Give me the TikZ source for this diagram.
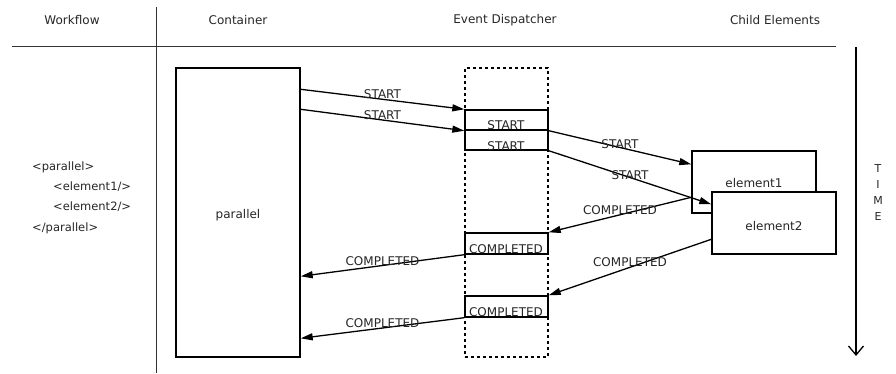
\documentclass[tikz,border=0pt]{standalone}
\usepackage{fontspec}
\setmainfont{DejaVu Sans}
\usetikzlibrary{arrows.meta,calc}
\begin{document}
\begin{tikzpicture}[x=1pt,y=-1pt,
  every node/.style={font=\fontsize{12}{14}\selectfont, inner sep=0pt, text=black!85},
  box/.style={draw, line width=1.4pt, fill=white},
  msg/.style={-{Triangle[length=12pt,width=7pt]}, line width=1.3pt},
  lbl/.style={midway},
  axis/.style={line width=1pt, black!80}]
\useasboundingbox (0,0) rectangle (896,374);

% column headers and grid
\node (hwf)  at (72,20)  {Workflow};
\node (hct)  at (238,20) {Container};
\node (hed)  at (505,20) {Event Dispatcher};
\node (hce)  at (775,20) {Child Elements};
\coordinate (vt) at (156,7);
\coordinate (vb) at (156,373);
\coordinate (hl) at (12,47);
\coordinate (hr) at (836,47);
\draw[axis] (vt) -- (vb);
\draw[axis] (hl) -- (hr);

% time axis
\coordinate (tt) at (856,47);
\coordinate (tb) at (856,356);
\draw[line width=1.3pt, -{Straight Barb[length=9pt,width=15pt,line width=1.3pt]}] (tt) -- (tb);
\node[align=center, font=\fontsize{11}{16}\selectfont] (time) at (878,192) {T\\I\\M\\E};

% workflow source
\node[anchor=west, align=left, font=\fontsize{11.5}{20.3}\selectfont] (src) at (32,197.5)
  {<parallel>\\\hspace{21pt}<element1/>\\\hspace{21pt}<element2/>\\</parallel>};

% container
\node[box, minimum width=124pt, minimum height=289pt] (cont) at (238,212.5) {};
\node (contl) at (238,215) {parallel};

% event dispatcher
\node[draw, dash pattern=on 3pt off 3pt, line width=1.4pt, minimum width=83pt, minimum height=289pt] (disp) at (506.5,212.5) {};
\node[box, minimum width=83pt, minimum height=20pt] (s1) at (506.5,120) {};
\node[box, minimum width=83pt, minimum height=20pt] (s2) at (506.5,140) {};
\node[box, minimum width=83pt, minimum height=21pt] (c1) at (506.5,243.5) {};
\node[box, minimum width=83pt, minimum height=21pt] (c2) at (506.5,306.5) {};
\node (s1l) at (506,125) {START};
\node (s2l) at (506,146) {START};
\node (c1l) at (506,249.5) {COMPLETED};
\node (c2l) at (506,312.5) {COMPLETED};

% child elements
\node[box, minimum width=124pt, minimum height=62pt] (e1) at (754,182) {};
\node (e1l) at (754,183) {element1};
\node[box, minimum width=124pt, minimum height=62pt] (e2) at (774,223) {};
\node (e2l) at (774,226) {element2};

% messages
\draw[msg] ($(cont.north east)+(0,22)$) -- node[lbl,yshift=5pt]{START} (s1.north west);
\draw[msg] ($(cont.north east)+(0,42)$) -- node[lbl,yshift=5pt]{START} (s1.south west);
\draw[msg] (s1.south east) -- node[lbl,yshift=3.5pt]{START} ($(e1.north west)+(0,14)$);
\draw[msg] (s2.south east) -- node[lbl,yshift=2.5pt]{START} ($(e2.north west)+(0,13)$);
\draw[msg] ($(e1.north west)+(0,47)$) -- node[lbl,yshift=4.5pt]{COMPLETED} (c1.north east);
\draw[msg] ($(e2.north west)+(0,48)$) -- node[lbl,yshift=5pt]{COMPLETED} (c2.north east);
\draw[msg] (c1.south west) -- node[lbl,yshift=4.5pt]{COMPLETED} ($(cont.north east)+(0,209)$);
\draw[msg] (c2.south west) -- node[lbl,yshift=5pt]{COMPLETED} ($(cont.north east)+(0,271)$);
\end{tikzpicture}
\end{document}
